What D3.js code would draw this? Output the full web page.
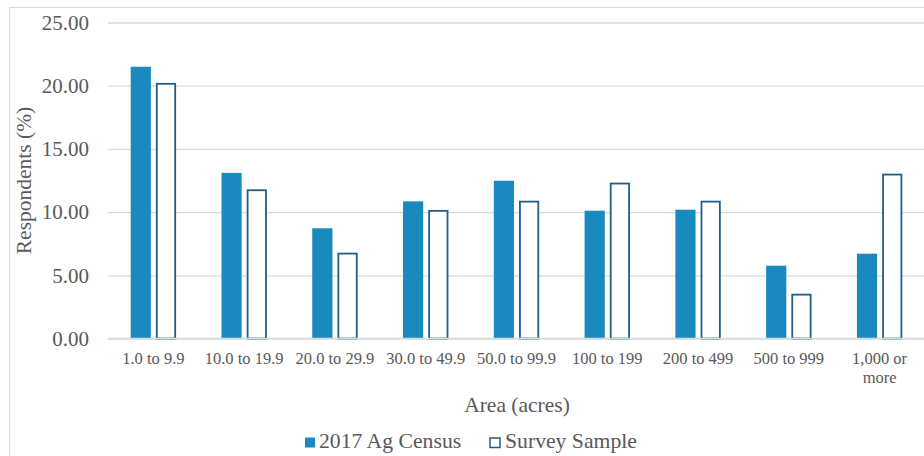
<!DOCTYPE html>
<html><head><meta charset="utf-8">
<script src="https://cdn.jsdelivr.net/npm/d3@7/dist/d3.min.js"></script>
<style>body{margin:0;background:#fff}svg{display:block}</style>
</head><body>
<svg id="c" width="924" height="456"></svg>
<script>
const categories = ["1.0 to 9.9","10.0 to 19.9","20.0 to 29.9","30.0 to 49.9","50.0 to 99.9","100 to 199","200 to 499","500 to 999","1,000 or more"];
const census = [21.5, 13.1, 8.72, 10.85, 12.48, 10.11, 10.19, 5.76, 6.71];
const survey = [20.22, 11.8, 6.79, 10.17, 10.9, 12.33, 10.9, 3.54, 13.04];
const seriesNames = ["2017 Ag Census","Survey Sample"];
const yTicks = [0,5,10,15,20,25];

const FONT = "Liberation Serif";
const TXT = "#595959";
const svg = d3.select("#c").attr("font-family", FONT);
const W = 924, H = 456;
const m = {l:108, r:-1, t:22.5, b:117.5};
// outer border
svg.append("rect").attr("x",9.5).attr("y",7.5).attr("width",W+10).attr("height",H+10)
  .attr("fill","none").attr("stroke","#d9d9d9").attr("stroke-width",1);

const x0 = d3.scaleBand().domain(categories).range([m.l, W-m.r]).paddingInner(0.5).paddingOuter(0.25);
const x1 = d3.scaleBand().domain(seriesNames).range([0, x0.bandwidth()]).paddingInner(0.2);
const y = d3.scaleLinear().domain([0,25]).range([H-m.b, m.t]);

// gridlines
const gy = svg.append("g").attr("transform",`translate(${m.l},0)`)
  .call(d3.axisLeft(y).tickValues(yTicks).tickSize(-(W-m.l)).tickFormat(d3.format(".2f")).tickPadding(19));
gy.attr("font-family", FONT).attr("font-size", 21);
gy.select(".domain").remove();
gy.selectAll(".tick line").attr("stroke","#d9d9d9").attr("stroke-width",1.3);
gy.selectAll(".tick text").attr("font-size",21).attr("font-family",FONT).attr("fill",TXT);

const data = categories.map((c,i)=>({c, vals:[{s:seriesNames[0],v:census[i]},{s:seriesNames[1],v:survey[i]}]}));
const g = svg.append("g");
const grp = g.selectAll("g").data(data).join("g").attr("transform",d=>`translate(${x0(d.c)},0)`);
grp.selectAll("rect").data(d=>d.vals).join("rect")
  .attr("x",d=>x1(d.s)+(d.s===seriesNames[1]?0.9:0))
  .attr("width",d=>x1.bandwidth()-(d.s===seriesNames[1]?1.8:0))
  .attr("y",d=>y(d.v)+(d.s===seriesNames[1]?0.9:0))
  .attr("height",d=>y(0)-y(d.v)-(d.s===seriesNames[1]?0.9:0))
  .attr("fill",d=>d.s===seriesNames[0]?"#1a89bf":"#ffffff")
  .attr("stroke",d=>d.s===seriesNames[0]?"none":"#1f5d8b")
  .attr("stroke-width",1.8);

// baseline axis
svg.append("line").attr("x1",m.l).attr("x2",W).attr("y1",y(0)).attr("y2",y(0)).attr("stroke","#d9d9d9").attr("stroke-width",1.3);

// category labels
const xa = svg.append("g").attr("transform",`translate(0,${y(0)})`).call(d3.axisBottom(x0).tickSize(0).tickPadding(0));
xa.attr("font-family", FONT);
xa.select(".domain").remove();
xa.selectAll(".tick text").remove();
xa.selectAll(".tick").each(function(d){
  const t = d3.select(this).append("text").attr("text-anchor","middle").attr("font-size",16.5)
    .attr("font-family",FONT).attr("fill",TXT);
  if(d==="1,000 or more"){
    t.append("tspan").attr("x",0).attr("y",25).text("1,000 or");
    t.append("tspan").attr("x",0).attr("y",44).text("more");
  } else {
    t.attr("y",25.5).text(d);
  }
});

// axis titles
svg.append("text").attr("x",517).attr("y",412).attr("text-anchor","middle").attr("font-size",21.5)
  .attr("font-family",FONT).attr("fill",TXT).text("Area (acres)");
svg.append("text").attr("transform",`translate(31,${(y(0)+y(25))/2}) rotate(-90)`).attr("text-anchor","middle")
  .attr("font-size",21.5).attr("font-family",FONT).attr("fill",TXT).text("Respondents (%)");

// legend
const lg = svg.append("g");
lg.append("rect").attr("x",305).attr("y",437.5).attr("width",10).attr("height",10).attr("fill","#1a89bf");
lg.append("text").attr("x",319).attr("y",448).attr("font-size",21.7).attr("font-family",FONT).attr("fill",TXT).text(seriesNames[0]);
lg.append("rect").attr("x",490).attr("y",438).attr("width",10).attr("height",9.5).attr("fill","#fff").attr("stroke","#1f5d8b").attr("stroke-width",1.5);
lg.append("text").attr("x",505).attr("y",448).attr("font-size",21.7).attr("font-family",FONT).attr("fill",TXT).text(seriesNames[1]);
</script>
</body></html>
